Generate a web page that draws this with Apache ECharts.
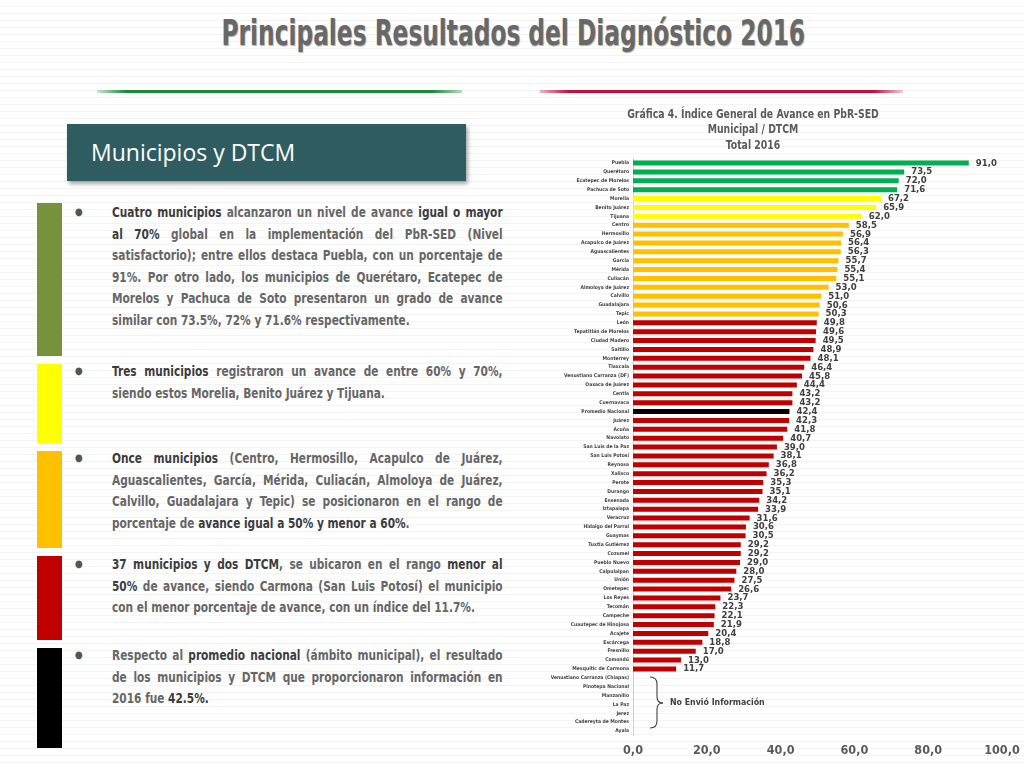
<!DOCTYPE html>
<html>
<head>
<meta charset="utf-8">
<script src="https://cdn.jsdelivr.net/npm/echarts@6/dist/echarts.min.js"></script>
<style>
  html, body { margin:0; padding:0; }
  body {
    width:1024px; height:768px; position:relative; overflow:hidden;
    background: repeating-linear-gradient(to bottom, #ffffff 0px, #ffffff 6px, #f4f4f4 6px, #f4f4f4 7px);
    font-family: "DejaVu Sans Condensed", "Roboto", sans-serif;
  }
  #title {
    position:absolute; left:0; top:13px; width:1024px; text-align:center;
    font-family: "DejaVu Sans Condensed", sans-serif;
    font-weight:bold; font-size:35px; color:#686868;
    text-shadow: 1px 1px 1px #b0b0b0;
    transform: scaleX(0.74); transform-origin: 517px 0;
  }
  .hline { position:absolute; height:3px; top:90px; }
  #box {
    position:absolute; left:67px; top:124px; width:399px; height:57px;
    background:#2f5c61; box-shadow: 2px 3px 4px rgba(0,0,0,0.35);
  }
  #box span {
    position:absolute; left:24px; top:12px; color:#ffffff;
    font-family:"Open Sans", "Noto Sans", sans-serif; font-size:23px;
  }
  .vbar { position:absolute; left:37px; width:25px; }
  .para { position:absolute; left:112px; width:465px; font-size:14px; font-weight:bold; color:#666666;
          transform: scaleX(0.84); transform-origin: 0 0; }
  .ln { display:block; height:21.5px; line-height:21.5px; text-align:justify; text-align-last:justify; white-space:nowrap; }
  .ln.last { text-align-last:left; }
  .ln b { color:#3c3c3c; font-weight:900; }
  .bul { position:absolute; left:75px; font-size:10px; color:#555; }
  #chart { position:absolute; left:520px; top:100px; width:504px; height:668px; }
</style>
</head>
<body>
<div id="title">Principales Resultados del Diagnóstico 2016</div>
<div class="hline" style="left:97px;width:365px;background:linear-gradient(to right, rgba(26,138,60,0.2), #1a8a3c 8%, #1a8a3c 92%, rgba(26,138,60,0.3));"></div>
<div class="hline" style="left:540px;width:363px;background:linear-gradient(to right, rgba(192,16,60,0.3), #c0103c 8%, #c0103c 92%, rgba(192,16,60,0.2));"></div>

<div id="box"><span>Municipios y DTCM</span></div>

<div class="vbar" style="top:203px;height:153px;background:#76923c;"></div>
<div class="vbar" style="top:364px;height:79px;background:#ffff00;"></div>
<div class="vbar" style="top:451px;height:97px;background:#ffc000;"></div>
<div class="vbar" style="top:556px;height:84px;background:#c00000;"></div>
<div class="vbar" style="top:648px;height:100px;background:#000000;"></div>

<div class="bul" style="top:206px;">●</div>
<div class="para" style="top:202px;">
  <span class="ln"><b>Cuatro municipios</b> alcanzaron un nivel de avance <b>igual o mayor</b></span>
  <span class="ln"><b>al 70%</b> global en la implementación del PbR-SED (Nivel</span>
  <span class="ln">satisfactorio); entre ellos destaca Puebla, con un porcentaje de</span>
  <span class="ln">91%. Por otro lado, los municipios de Querétaro, Ecatepec de</span>
  <span class="ln">Morelos y Pachuca de Soto presentaron un grado de avance</span>
  <span class="ln last">similar con 73.5%, 72% y 71.6% respectivamente.</span>
</div>

<div class="bul" style="top:365px;">●</div>
<div class="para" style="top:361px;">
  <span class="ln"><b>Tres municipios</b> registraron un avance de entre 60% y 70%,</span>
  <span class="ln last">siendo estos Morelia, Benito Juárez y Tijuana.</span>
</div>

<div class="bul" style="top:452px;">●</div>
<div class="para" style="top:448px;">
  <span class="ln"><b>Once municipios</b> (Centro, Hermosillo, Acapulco de Juárez,</span>
  <span class="ln">Aguascalientes, García, Mérida, Culiacán, Almoloya de Juárez,</span>
  <span class="ln">Calvillo, Guadalajara y Tepic) se posicionaron en el rango de</span>
  <span class="ln last">porcentaje de <b>avance igual a 50% y menor a 60%</b>.</span>
</div>

<div class="bul" style="top:558px;">●</div>
<div class="para" style="top:554px;">
  <span class="ln"><b>37 municipios y dos DTCM</b>, se ubicaron en el rango <b>menor al</b></span>
  <span class="ln"><b>50%</b> de avance, siendo Carmona (San Luis Potosí) el municipio</span>
  <span class="ln last">con el menor porcentaje de avance, con un índice del 11.7%.</span>
</div>

<div class="bul" style="top:649px;">●</div>
<div class="para" style="top:645px;">
  <span class="ln">Respecto al <b>promedio nacional</b> (ámbito municipal), el resultado</span>
  <span class="ln">de los municipios y DTCM que proporcionaron información en</span>
  <span class="ln last">2016 fue <b>42.5%.</b></span>
</div>

<div id="chart"></div>

<script>
const categories = [
  'Puebla','Querétaro','Ecatepec de Morelos','Pachuca de Soto','Morelia','Benito Juárez','Tijuana',
  'Centro','Hermosillo','Acapulco de Juárez','Aguascalientes','García','Mérida','Culiacán',
  'Almoloya de Juárez','Calvillo','Guadalajara','Tepic','León','Tepatitlán de Morelos','Ciudad Madero',
  'Saltillo','Monterrey','Tlaxcala','Venustiano Carranza (DF)','Oaxaca de Juárez','Centla','Cuernavaca',
  'Promedio Nacional','Juárez','Acuña','Navolato','San Luis de la Paz','San Luis Potosí','Reynosa',
  'Xalisco','Perote','Durango','Ensenada','Iztapalapa','Veracruz','Hidalgo del Parral','Guaymas',
  'Tuxtla Gutiérrez','Cozumel','Pueblo Nuevo','Calpulalpan','Unión','Ometepec','Los Reyes','Tecomán',
  'Campeche','Cuautepec de Hinojosa','Acajete','Escárcega','Fresnillo','Comondú','Mexquitic de Carmona',
  'Venustiano Carranza (Chiapas)','Pinotepa Nacional','Manzanillo','La Paz','Jerez','Cadereyta de Montes','Ayala'
];
const values = [
  91.0,73.5,72.0,71.6,67.2,65.9,62.0,
  58.5,56.9,56.4,56.3,55.7,55.4,55.1,
  53.0,51.0,50.6,50.3,49.8,49.6,49.5,
  48.9,48.1,46.4,45.8,44.4,43.2,43.2,
  42.4,42.3,41.8,40.7,39.0,38.1,36.8,
  36.2,35.3,35.1,34.2,33.9,31.6,30.6,30.5,
  29.2,29.2,29.0,28.0,27.5,26.6,23.7,22.3,
  22.1,21.9,20.4,18.8,17.0,13.0,11.7,
  null,null,null,null,null,null,null
];
const nationalCategory = 'Promedio Nacional';
const xMin = 0, xMax = 100, xStep = 20;
const chartTitle = 'Gráfica 4. Índice General de Avance en PbR-SED\nMunicipal / DTCM\nTotal 2016';
const noInfoText = 'No Envió Información';

function colorFor(name, v) {
  if (name === nationalCategory) return '#000000';
  if (v >= 70) return '#00b050';
  if (v >= 60) return '#ffff00';
  if (v >= 50) return '#ffc000';
  return '#c00000';
}
const fmt = v => (v == null ? '' : v.toFixed(1).replace('.', ','));
const FONT = '"DejaVu Sans Condensed", sans-serif';
const braceStyle = { stroke: '#404040', lineWidth: 1.1, fill: null };

const chart = echarts.init(document.getElementById('chart'), null, {renderer:'canvas'});
chart.setOption({
  animation: false,
  backgroundColor: 'transparent',
  grid: { left: 113, right: 22, top: 58.6, bottom: 32.5, containLabel: false },
  xAxis: {
    type: 'value', min: xMin, max: xMax, interval: xStep,
    axisLine: { show: false }, axisTick: { show: false }, splitLine: { show: false },
    axisLabel: { formatter: v => fmt(v), fontFamily: FONT, fontWeight: 'bold', fontSize: 12.5, color: '#5a5a5a', margin: 9 }
  },
  yAxis: {
    type: 'category', data: categories, inverse: true,
    axisLine: { show: true, lineStyle: { color: '#d0d0d0', width: 1 } },
    axisTick: { show: false },
    axisLabel: { interval: 0, fontFamily: FONT, fontWeight: 'bold', fontSize: 5, color: '#444444', margin: 4 }
  },
  series: [{
    type: 'bar', barWidth: 5,
    data: values.map((v, i) => ({ value: v, itemStyle: { color: colorFor(categories[i], v) } })),
    label: {
      show: true, position: 'right', distance: 7,
      formatter: p => fmt(p.value),
      fontFamily: FONT, fontWeight: 'bold', fontSize: 9.5, color: '#404040'
    }
  }],
  graphic: [
    { type: 'text', x: 233, y: 7, scaleX: 0.9,
      style: { text: chartTitle, textAlign: 'center', fontFamily: FONT, fontWeight: 'bold', fontSize: 11.5, lineHeight: 15.5, fill: '#5a5a5a' } },
    { type: 'bezierCurve', shape: { x1: 130, y1: 577, x2: 137, y2: 584, cpx1: 137, cpy1: 577 }, style: braceStyle },
    { type: 'line', shape: { x1: 137, y1: 584, x2: 137, y2: 597 }, style: braceStyle },
    { type: 'bezierCurve', shape: { x1: 137, y1: 597, x2: 143, y2: 603, cpx1: 137, cpy1: 603 }, style: braceStyle },
    { type: 'bezierCurve', shape: { x1: 143, y1: 603, x2: 137, y2: 609, cpx1: 137, cpy1: 603 }, style: braceStyle },
    { type: 'line', shape: { x1: 137, y1: 609, x2: 137, y2: 621 }, style: braceStyle },
    { type: 'bezierCurve', shape: { x1: 137, y1: 621, x2: 130, y2: 628, cpx1: 137, cpy1: 628 }, style: braceStyle },
    { type: 'text', x: 150, y: 598, scaleX: 0.92,
      style: { text: noInfoText, fontFamily: FONT, fontWeight: 'bold', fontSize: 9.5, fill: '#404040' } }
  ]
});
</script>
</body>
</html>
